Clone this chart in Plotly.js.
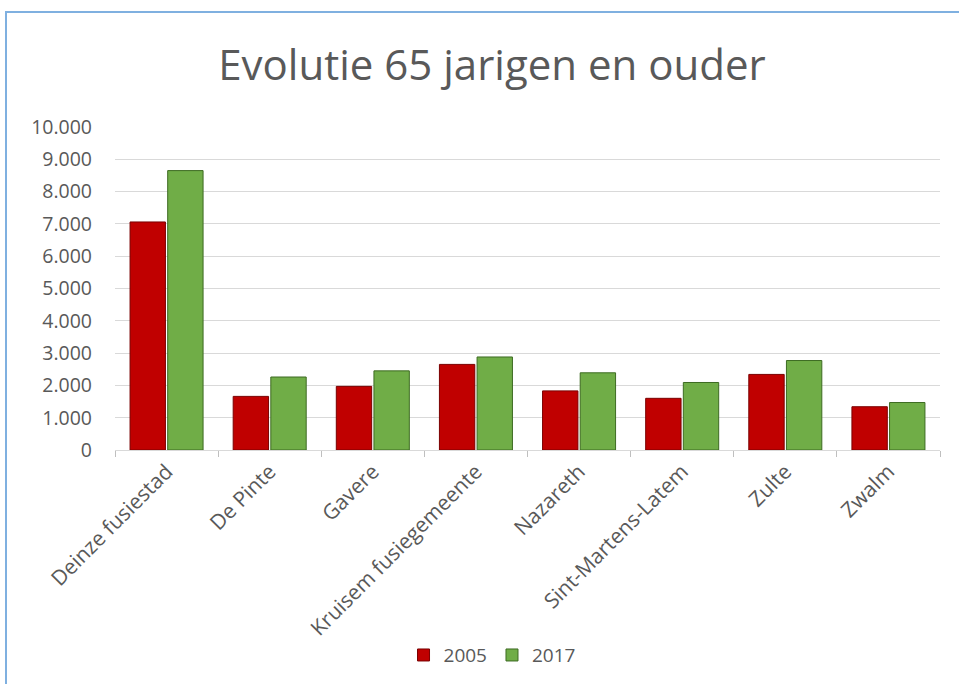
<!DOCTYPE html>
<html>
<head>
<meta charset="utf-8">
<script src="https://cdn.plot.ly/plotly-3.0.1.min.js"></script>
<style>
html,body{margin:0;padding:0;background:#fff;}
#wrap{position:relative;width:959px;height:684px;overflow:hidden;}
#chart{position:absolute;left:0;top:0;width:959px;height:684px;}
#frame{position:absolute;left:5px;top:11px;width:960px;height:700px;border-top:2px solid #7fb0e0;border-left:2px solid #7fb0e0;pointer-events:none;}
</style>
</head>
<body>
<div id="wrap"><div id="chart"></div><div id="frame"></div></div>
<script>
var categories = ["Deinze fusiestad","De Pinte","Gavere","Kruisem fusiegemeente","Nazareth","Sint-Martens-Latem","Zulte","Zwalm"];
var values2005 = [7060, 1660, 1970, 2650, 1830, 1600, 2340, 1340];
var values2017 = [8650, 2260, 2450, 2880, 2390, 2090, 2770, 1470];
var seriesNames = ["2005", "2017"];
var yTicks = [0,1000,2000,3000,4000,5000,6000,7000,8000,9000,10000];

var font = "'Open Sans', 'Noto Sans', sans-serif";
var grey = "#595959";

var traces = [
  {type:"bar", name:seriesNames[0], x:categories, y:values2005,
   marker:{color:"#c00000", line:{color:"#7a0000", width:1}}},
  {type:"bar", name:seriesNames[1], x:categories, y:values2017,
   marker:{color:"#70ad47", line:{color:"#3d6b22", width:1}}}
];

var layout = {
  width:959, height:684,
  margin:{l:115, r:19, t:127, b:233, pad:0},
  paper_bgcolor:"#ffffff", plot_bgcolor:"#ffffff",
  separators:",.",
  barmode:"group", bargap:0.27, bargroupgap:0.06,
  title:{text:"Evolutie 65 jarigen en ouder", font:{family:font, size:42, color:grey},
         x:0.513, xanchor:"center", y:0.905, yanchor:"middle"},
  font:{family:font, color:grey, size:17},
  xaxis:{type:"category", tickangle:-45, tickson:"boundaries", ticks:"outside", ticklen:6,
         tickcolor:"#bfbfbf", showline:true, linecolor:"#d9d9d9", linewidth:1,
         showgrid:false, tickfont:{family:font, size:21, color:grey}},
  yaxis:{range:[0,10000], tickvals:yTicks, tickformat:",d", showgrid:true, gridcolor:"#d9d9d9",
         gridwidth:1, zeroline:false, showline:false, ticks:"", ticklabelstandoff:22,
         tickfont:{family:font, size:19.5, color:grey}},
  showlegend:true,
  legend:{orientation:"h", x:0.457, xanchor:"center", y:-0.63, yanchor:"middle",
          font:{family:font, size:19, color:grey}, itemwidth:30, tracegroupgap:0}
};

Plotly.newPlot("chart", traces, layout, {displayModeBar:false, staticPlot:true});
</script>
</body>
</html>
